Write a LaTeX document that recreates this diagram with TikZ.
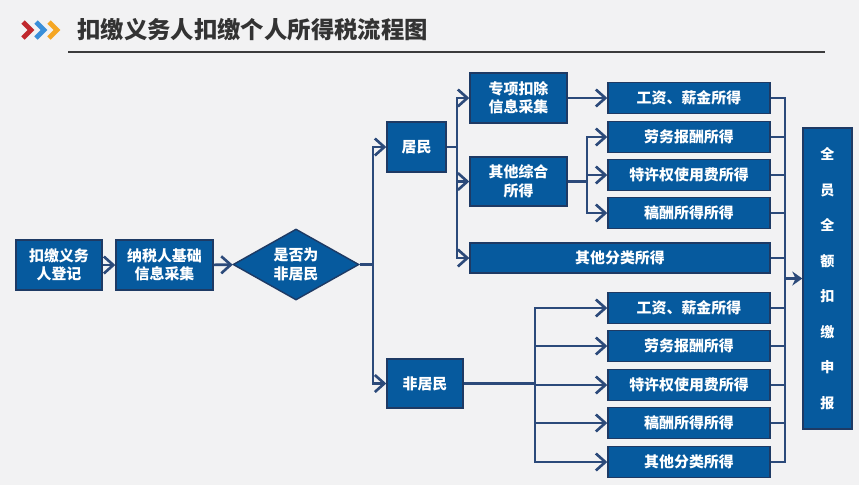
\documentclass[tikz,border=0pt]{standalone}
\usepackage{fontspec}
\usepackage{tikz}
\usetikzlibrary{arrows.meta,positioning,shapes.geometric}
\newfontfamily\cjk{Noto Sans CJK SC}
\definecolor{boxblue}{RGB}{6,90,158}
\definecolor{boxline}{RGB}{30,58,100}
\definecolor{wire}{RGB}{44,74,122}
\definecolor{pagebg}{RGB}{242,242,243}

\begin{document}
\begin{tikzpicture}[x=0.02cm,y=-0.02cm,>={Straight Barb[length=1.9mm,width=3.4mm]},
  box/.style={draw=boxline,line width=0.8pt,fill=boxblue,text=white,align=center,inner sep=1pt,font=\cjk\bfseries\fontsize{8.5}{10.5}\selectfont},
  incomebox/.style={box,minimum width=3.24cm,minimum height=0.62cm},
  wireline/.style={draw=wire,line width=1.5pt}]
\useasboundingbox[fill=pagebg] (0,0) rectangle (859,485);
% title bar
\draw[line width=2.8pt,draw={rgb,255:red,192;green,40;blue,45}] (23,22) -- (31,30) -- (23,38);
\draw[line width=2.8pt,draw={rgb,255:red,58;green,143;blue,217}] (36,22) -- (44,30) -- (36,38);
\draw[line width=2.8pt,draw={rgb,255:red,245;green,166;blue,35}] (49,22) -- (57,30) -- (49,38);
\node[anchor=west,inner sep=0pt,text={rgb,255:red,51;green,51;blue,51},font=\cjk\bfseries\fontsize{13.3}{16}\selectfont] (title) at (77,30) {扣缴义务人扣缴个人所得税流程图};
\draw[draw={rgb,255:red,60;green,60;blue,60},line width=0.6pt] (68,52) -- (825,52);

% left chain
\node[box,minimum width=1.72cm,minimum height=1cm] (reg) at (59,265) {扣缴义务\\人登记};
\node[box,minimum width=1.94cm,minimum height=1cm] (info) at (164.5,265) {纳税人基础\\信息采集};
\node[box,diamond,aspect=1.77,minimum width=2.52cm,minimum height=1.42cm,inner sep=0pt] (judge) at (296,264.5) {是否为\\非居民};

\node[box,minimum width=1.18cm,minimum height=1cm] (res) at (416.5,147) {居民};
\node[box,minimum width=1.52cm,minimum height=0.98cm] (nonres) at (425,383.5) {非居民};

% resident branch
\node[box,minimum width=1.94cm,minimum height=1cm] (ded) at (518.5,98) {专项扣除\\信息采集};
\node[box,minimum width=1.94cm,minimum height=0.98cm] (comp) at (518.5,181.5) {其他综合\\所得};
\node[box,minimum width=6cm,minimum height=0.6cm] (cls) at (620,258) {其他分类所得};
\node[incomebox] (r1) at (689,98) {工资、薪金所得};
\node[incomebox] (r2) at (689,137) {劳务报酬所得};
\node[incomebox] (r3) at (689,175) {特许权使用费所得};
\node[incomebox] (r4) at (689,213) {稿酬所得所得};

% non-resident branch
\node[incomebox] (n1) at (689,308) {工资、薪金所得};
\node[incomebox] (n2) at (689,346) {劳务报酬所得};
\node[incomebox] (n3) at (689,385) {特许权使用费所得};
\node[incomebox] (n4) at (689,423) {稿酬所得所得};
\node[incomebox] (n5) at (689,462) {其他分类所得};

\node[box,minimum width=0.98cm,minimum height=6.02cm,font=\cjk\bfseries\fontsize{8}{20.2}\selectfont] (all) at (827.5,278.5) {全\\员\\全\\额\\扣\\缴\\申\\报};

% connectors
\coordinate (s1) at (373,264.5);
\coordinate (s2) at (457,147);
\coordinate (s3) at (587,181.5);
\coordinate (s4) at (535,383.5);
\coordinate (s5) at (785,278.5);

\draw[wireline,->] (reg) -- (info);
\draw[wireline,->] (info) -- (judge);
\draw[wireline] (judge.east) -- (s1);
\draw[wireline,->] (s1) |- (res.west);
\draw[wireline,->] (s1) |- (nonres.west);

\draw[wireline] (res.east) -- (s2);
\draw[wireline,->] (s2) |- (ded.west);
\draw[wireline,->] (s2) |- (comp.west);
\draw[wireline,->] (s2) |- (cls.west);
\draw[wireline,->] (ded) -- (r1);
\draw[wireline] (comp.east) -- (s3);
\draw[wireline,->] (s3) |- (r2.west);
\draw[wireline,->] (s3) |- (r3.west);
\draw[wireline,->] (s3) |- (r4.west);

\draw[wireline] (nonres.east) -- (s4);
\draw[wireline,->] (s4) |- (n1.west);
\draw[wireline,->] (s4) |- (n2.west);
\draw[wireline,->] (s4) |- (n3.west);
\draw[wireline,->] (s4) |- (n4.west);
\draw[wireline,->] (s4) |- (n5.west);

% collector to the declaration box
\draw[wireline] (r1.east) -- (r1.east -| s5);
\draw[wireline] (r2.east) -- (r2.east -| s5);
\draw[wireline] (r3.east) -- (r3.east -| s5);
\draw[wireline] (r4.east) -- (r4.east -| s5);
\draw[wireline] (cls.east) -- (cls.east -| s5);
\draw[wireline] (n1.east) -- (n1.east -| s5);
\draw[wireline] (n2.east) -- (n2.east -| s5);
\draw[wireline] (n3.east) -- (n3.east -| s5);
\draw[wireline] (n4.east) -- (n4.east -| s5);
\draw[wireline] (n5.east) -- (n5.east -| s5);
\draw[wireline,line cap=rect] (r1.east -| s5) -- (n5.east -| s5);
\draw[wireline,-{Stealth[length=2mm,width=2.8mm]}] (s5) -- (all.west);
\end{tikzpicture}
\end{document}
